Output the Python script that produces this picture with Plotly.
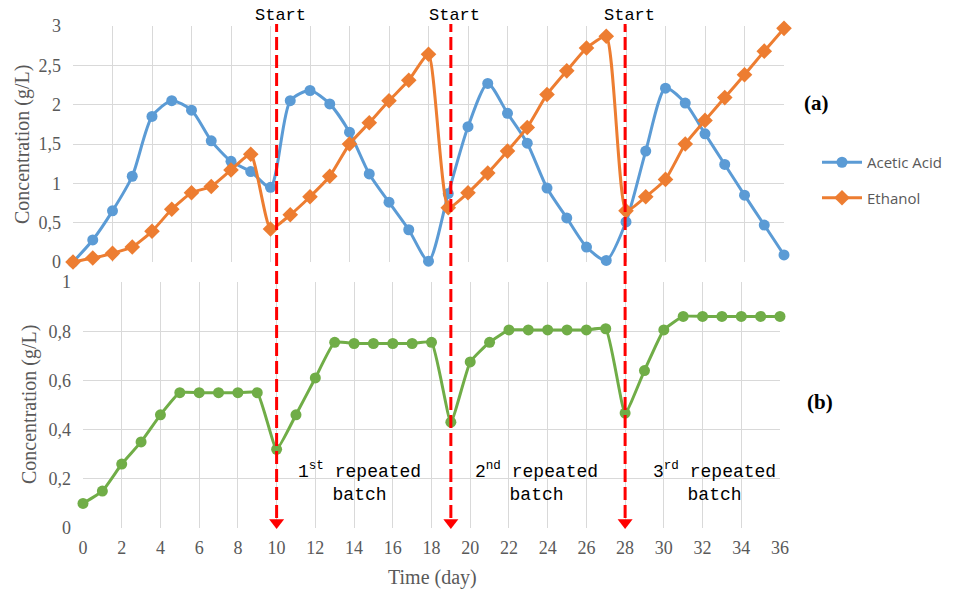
import plotly.graph_objects as go

days = list(range(37))

acetic_acid = [0.00, 0.28, 0.65, 1.09, 1.85, 2.05, 1.93, 1.54, 1.28, 1.15,
               0.95, 2.05, 2.18, 2.01, 1.65, 1.12, 0.76, 0.41, 0.01, 0.87,
               1.72, 2.27, 1.89, 1.51, 0.94, 0.56, 0.19, 0.02, 0.51, 1.41,
               2.21, 2.02, 1.63, 1.24, 0.85, 0.47, 0.09]

ethanol = [0.00, 0.05, 0.11, 0.19, 0.39, 0.67, 0.88, 0.96, 1.17, 1.37,
           0.42, 0.60, 0.83, 1.09, 1.50, 1.77, 2.05, 2.31, 2.64, 0.69,
           0.88, 1.13, 1.41, 1.71, 2.13, 2.43, 2.72, 2.87, 0.65, 0.83,
           1.05, 1.50, 1.80, 2.09, 2.38, 2.68, 2.97]

biomass = [0.10, 0.15, 0.26, 0.35, 0.46, 0.55, 0.55, 0.55, 0.55, 0.55,
           0.32, 0.46, 0.61, 0.755, 0.75, 0.75, 0.75, 0.75, 0.755, 0.43,
           0.675, 0.755, 0.805, 0.805, 0.805, 0.805, 0.805, 0.81, 0.467, 0.64,
           0.805, 0.86, 0.86, 0.86, 0.86, 0.86, 0.86]

batch_starts = [10, 19, 28]
batch_labels = ["1<sup>st</sup> repeated<br>batch",
                "2<sup>nd</sup> repeated<br>batch",
                "3<sup>rd</sup> repeated<br>batch"]
batch_label_x = [14.3, 23.4, 32.6]

W, H = 955, 589
def px_x(p): return p / W
def px_y(p): return 1 - p / H

BLUE = "#5B9BD5"
ORANGE = "#ED7D31"
GREEN = "#70AD47"
GRID = "#D9D9D9"
TXT = "#595959"
SERIF = "Liberation Serif"
MONO = "Liberation Mono"

fig = go.Figure()

fig.add_trace(go.Scatter(
    x=days, y=acetic_acid, name="Acetic Acid", mode="lines+markers",
    line=dict(color=BLUE, width=3, shape="spline", smoothing=0.7),
    marker=dict(symbol="circle", size=11, color=BLUE),
    xaxis="x", yaxis="y", cliponaxis=False, legendgroup="a"))

fig.add_trace(go.Scatter(
    x=days, y=ethanol, name="Ethanol", mode="lines+markers",
    line=dict(color=ORANGE, width=3, shape="spline", smoothing=0.5),
    marker=dict(symbol="diamond", size=12, color=ORANGE),
    xaxis="x", yaxis="y", cliponaxis=False, legendgroup="b"))

fig.add_trace(go.Scatter(
    x=days, y=biomass, name="Biomass", mode="lines+markers",
    line=dict(color=GREEN, width=3, shape="spline", smoothing=0.4),
    marker=dict(symbol="circle", size=11, color=GREEN),
    xaxis="x2", yaxis="y2", cliponaxis=False, showlegend=False))

# arrow heads of the batch-start markers
fig.add_trace(go.Scatter(
    x=batch_starts, y=[0.022] * len(batch_starts), mode="markers",
    marker=dict(symbol="triangle-down", size=13, color="#FF0000"),
    xaxis="x2", yaxis="y2", cliponaxis=False, showlegend=False,
    hoverinfo="skip"))

shapes = []
annotations = []
for s in batch_starts:
    shapes.append(dict(type="line", xref="x2", yref="paper",
                       x0=s, x1=s, y0=px_y(518), y1=px_y(24),
                       line=dict(color="#FF0000", width=3, dash="13px,5px")))
    annotations.append(dict(x=s, xref="x2", y=px_y(15), yref="paper",
                            text="Start", showarrow=False, xshift=4,
                            xanchor="center", yanchor="middle",
                            font=dict(family=MONO, size=17, color="#000000")))

for xl, t in zip(batch_label_x, batch_labels):
    annotations.append(dict(x=xl, xref="x2", y=px_y(482), yref="paper",
                            text=t, showarrow=False, align="center",
                            xanchor="center", yanchor="middle",
                            font=dict(family=MONO, size=18, color="#000000")))

def note(x, y, text, size, color, angle=0):
    return dict(x=px_x(x), y=px_y(y), xref="paper", yref="paper",
                text=text, textangle=angle, showarrow=False,
                xanchor="center", yanchor="middle",
                font=dict(family=SERIF, size=size, color=color))

annotations += [
    note(22, 145, "Concentration (g/L)", 20, TXT, -90),
    note(29, 405, "Concentration (g/L)", 20, TXT, -90),
    note(432, 577, "Time (day)", 20, TXT),
    note(816, 103, "<b>(a)</b>", 21, "#000000"),
    note(820, 402, "<b>(b)</b>", 21, "#000000"),
]

axis_common = dict(showgrid=True, gridcolor=GRID, gridwidth=1,
                   zeroline=False, showline=False, automargin=False,
                   ticks="", tickfont=dict(family=SERIF, size=18, color=TXT))

fig.update_layout(
    template=None,
    width=W, height=H,
    margin=dict(l=0, r=0, t=0, b=0),
    paper_bgcolor="white", plot_bgcolor="white",
    separators=",.",
    font=dict(family=SERIF, color=TXT, size=18),
    xaxis=dict(domain=[px_x(73), px_x(784)], range=[0, 36], dtick=2,
               tick0=0, showticklabels=False, anchor="y", **axis_common),
    yaxis=dict(domain=[px_y(262), px_y(26)], range=[0, 3], dtick=0.5,
               anchor="x", ticklabelstandoff=11, **axis_common),
    xaxis2=dict(domain=[px_x(83), px_x(780)], range=[0, 36], dtick=2,
                tick0=0, anchor="y2", ticklabelstandoff=7, **axis_common),
    yaxis2=dict(domain=[px_y(528), px_y(282)], range=[0, 1], dtick=0.2,
                anchor="x2", ticklabelstandoff=11, **axis_common),
    showlegend=True,
    legend=dict(x=px_x(817), y=px_y(146), xanchor="left", yanchor="top",
                font=dict(family="Open Sans", size=15, color=TXT),
                bgcolor="rgba(0,0,0,0)", tracegroupgap=13,
                itemwidth=40),
    shapes=shapes,
    annotations=annotations,
)

fig.write_html("out.html")
